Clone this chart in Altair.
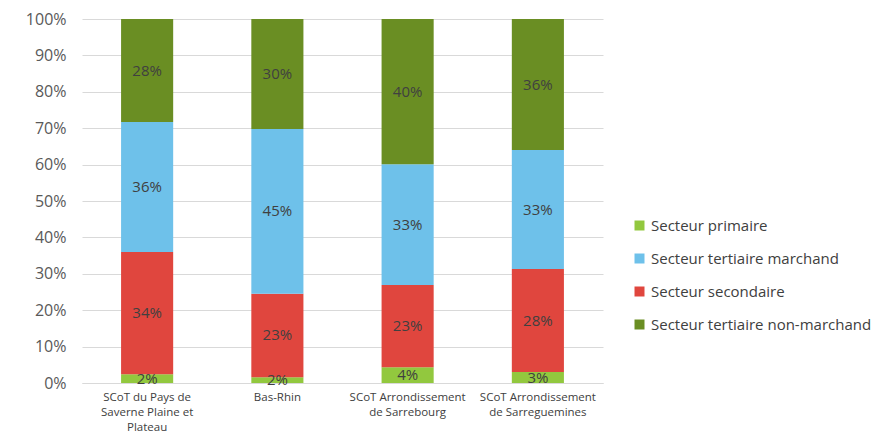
import altair as alt
import pandas as pd

categories = [
    "SCoT du Pays de\nSaverne Plaine et\nPlateau",
    "Bas-Rhin",
    "SCoT Arrondissement\nde Sarrebourg",
    "SCoT Arrondissement\nde Sarreguemines",
]
# stack order, bottom to top
secteurs = [
    "Secteur primaire",
    "Secteur secondaire",
    "Secteur tertiaire marchand",
    "Secteur tertiaire non-marchand",
]
primaire = [2.4, 1.6, 4.3, 3.0]
secondaire = [33.6, 22.9, 22.6, 28.3]
marchand = [35.7, 45.3, 33.2, 32.7]
non_marchand = [28.3, 30.2, 39.9, 36.0]

legend_order = [
    "Secteur primaire",
    "Secteur tertiaire marchand",
    "Secteur secondaire",
    "Secteur tertiaire non-marchand",
]
legend_colors = ["#92C83E", "#6EC1EA", "#E0463E", "#6A8E23"]

series = [primaire, secondaire, marchand, non_marchand]
rows = []
for rang, (s, vals) in enumerate(zip(secteurs, series)):
    for c, v in zip(categories, vals):
        rows.append({"categorie": c, "secteur": s, "rang": rang, "valeur": v})
df = pd.DataFrame(rows)

FONT = "Open Sans"

base = alt.Chart(df).transform_stack(
    stack="valeur",
    groupby=["categorie"],
    as_=["y0", "y1"],
    sort=[alt.SortField("rang", order="ascending")],
).transform_calculate(
    mid="(datum.y0 + datum.y1) / 2",
    lab="format(datum.valeur, '.0f') + '%'",
)

x_axis = alt.Axis(
    labelAngle=0,
    labelExpr="split(datum.label, '\\n')",
    labelFont=FONT,
    labelFontSize=11.5,
    labelColor="#404040",
    labelLineHeight=15,
    labelPadding=8,
    labelLimit=200,
    labelOverlap=False,
    ticks=False,
    domain=True,
    domainColor="#D9D9D9",
    grid=False,
)

y_axis = alt.Axis(
    values=list(range(0, 101, 10)),
    labelExpr="datum.value + '%'",
    labelFont=FONT,
    labelFontSize=16,
    labelColor="#595959",
    labelPadding=16,
    labelOverlap=False,
    labelFlush=False,
    ticks=False,
    domain=False,
    gridColor="#D9D9D9",
    gridWidth=1,
)

x_enc = alt.X(
    "categorie:N",
    sort=categories,
    title=None,
    scale=alt.Scale(paddingInner=0.6, paddingOuter=0.3),
    axis=x_axis,
)
y_scale = alt.Scale(domain=[0, 100], nice=False)

bars = base.mark_bar().encode(
    x=x_enc,
    y=alt.Y("y0:Q", title=None, scale=y_scale, axis=y_axis),
    y2="y1:Q",
    color=alt.Color(
        "secteur:N",
        scale=alt.Scale(domain=legend_order, range=legend_colors),
        legend=alt.Legend(
            title=None,
            orient="none",
            legendX=550,
            legendY=199,
            symbolType="square",
            symbolSize=100,
            symbolStrokeWidth=0,
            labelFont=FONT,
            labelFontSize=15,
            labelColor="#404040",
            labelOffset=4,
            rowPadding=17,
            labelLimit=400,
        ),
    ),
)

labels = base.mark_text(
    font=FONT, fontSize=15, color="#404040", baseline="middle"
).encode(
    x=x_enc,
    y=alt.Y("mid:Q", title=None, scale=y_scale, axis=y_axis),
    text="lab:N",
)

chart = (
    alt.layer(bars, labels)
    .properties(
        width=521,
        height=364,
        autosize=alt.AutoSizeParams(type="none"),
        padding={"left": 74, "top": 11, "right": 285, "bottom": 52},
    )
    .configure_view(stroke=None)
)

chart.save("out.html", embed_options={"renderer": "svg", "actions": False})
